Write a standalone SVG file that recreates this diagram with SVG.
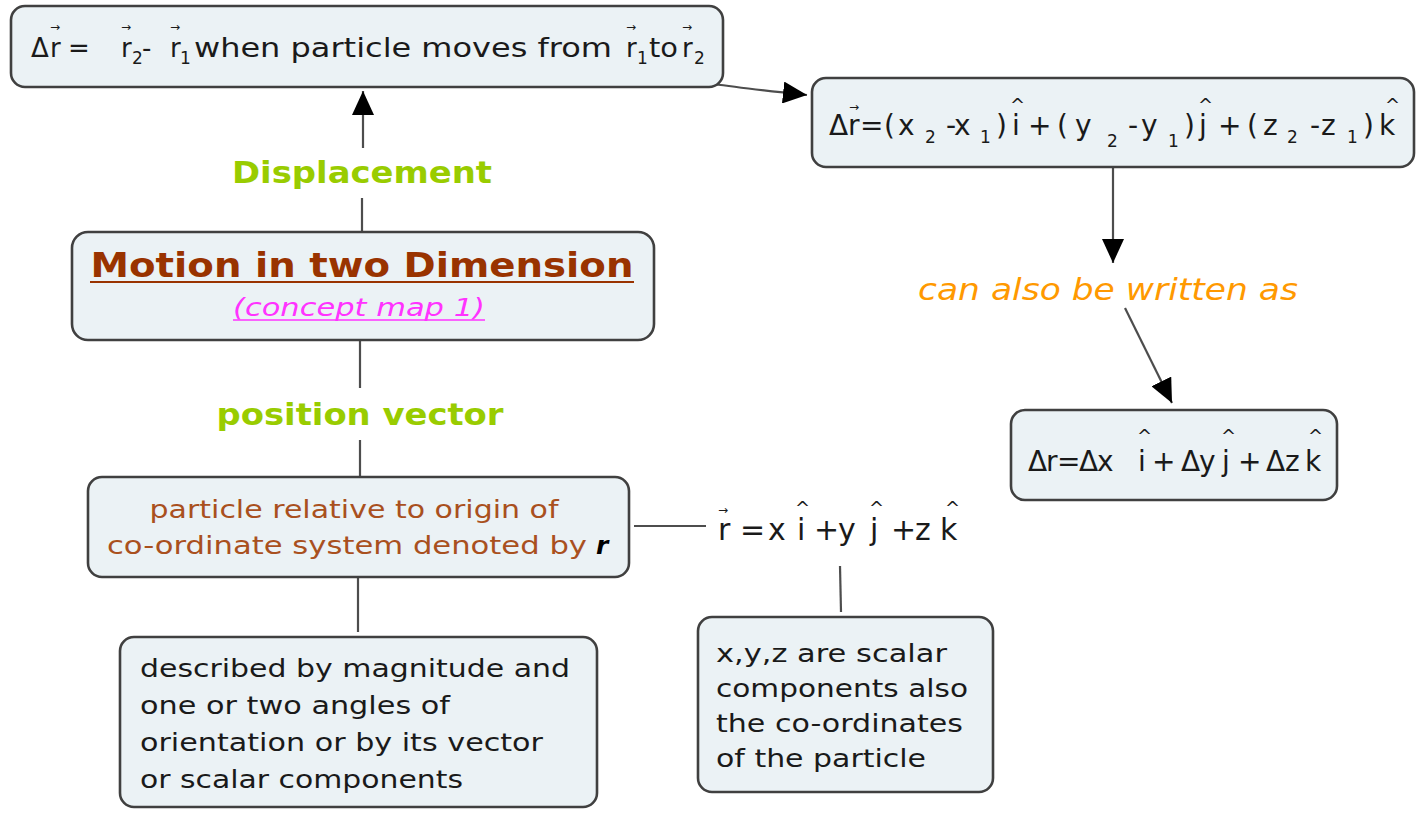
<svg xmlns="http://www.w3.org/2000/svg" width="1419" height="817" viewBox="0 0 1419 817">
<defs>
<marker id="ah" viewBox="0 0 24 22" refX="24" refY="11" markerWidth="24" markerHeight="22" markerUnits="userSpaceOnUse" orient="auto">
<path d="M0,0 L24,11 L0,22 z" fill="#000"/>
</marker>
<style>
.box{fill:#ebf2f5;stroke:#404040;stroke-width:2.6}
.t{font-family:"DejaVu Sans",Verdana,sans-serif;fill:#1a1a1a}
.m{font-family:"DejaVu Sans",Verdana,sans-serif;fill:#1a1a1a}
.hat{font-size:18px}
.vec{font-size:12px}
.lbl{font-family:"DejaVu Sans",Verdana,sans-serif;font-weight:bold;font-size:30px;fill:#99cc00;text-anchor:middle}
.conn{stroke:#4d4d4d;stroke-width:2.2;fill:none}
</style>
</defs>

<g id="connectors">
<line class="conn" x1="362" y1="232" x2="362" y2="198"/>
<line class="conn" x1="363" y1="148" x2="363" y2="91" marker-end="url(#ah)"/>
<path class="conn" d="M714,84 Q740,88 807,95" marker-end="url(#ah)"/>
<line class="conn" x1="1113" y1="167" x2="1113" y2="263" marker-end="url(#ah)"/>
<line class="conn" x1="1125" y1="308" x2="1172" y2="403" marker-end="url(#ah)"/>
<line class="conn" x1="360" y1="340" x2="360" y2="388"/>
<line class="conn" x1="360" y1="440" x2="360" y2="477"/>
<line class="conn" x1="634" y1="526" x2="706" y2="526"/>
<line class="conn" x1="840" y1="566" x2="841" y2="612"/>
<line class="conn" x1="358" y1="577" x2="358" y2="632"/>
</g>

<g id="labels">
<text class="lbl" x="362" y="183" textLength="260" lengthAdjust="spacingAndGlyphs">Displacement</text>
<text class="lbl" x="360" y="425" textLength="287" lengthAdjust="spacingAndGlyphs">position vector</text>
<text x="1108" y="300" font-family="DejaVu Sans,Verdana,sans-serif" font-style="italic" font-size="30" fill="#ff9900" text-anchor="middle" textLength="380" lengthAdjust="spacingAndGlyphs">can also be written as</text>
</g>

<g id="node-displacement-def">
<rect class="box" x="11" y="6" width="712" height="81" rx="14"/>
<text class="m" font-size="26"><tspan x="31 50 68" y="57">Δr=</tspan><tspan x="121" y="57">r</tspan><tspan x="132" y="64" font-size="17">2</tspan><tspan x="142" y="57">-</tspan><tspan x="170" y="57">r</tspan><tspan x="180" y="64" font-size="17">1</tspan><tspan x="194" y="57" textLength="418" lengthAdjust="spacingAndGlyphs">when particle moves from</tspan><tspan x="626" y="57">r</tspan><tspan x="637" y="64" font-size="17">1</tspan><tspan x="649" y="57" textLength="29" lengthAdjust="spacingAndGlyphs">to</tspan><tspan x="682" y="57">r</tspan><tspan x="694" y="64" font-size="17">2</tspan><tspan class="vec" x="50 121 170 626 682" y="31">→→→→→</tspan></text>
</g>

<g id="node-displacement-components">
<rect class="box" x="812" y="78" width="602" height="89" rx="14"/>
<text class="m" font-size="28"><tspan y="135" x="829 848 860 884 898">Δr=(x</tspan><tspan y="143" x="925" font-size="17">2</tspan><tspan y="135" x="946 954">-x</tspan><tspan y="143" x="980" font-size="17">1</tspan><tspan y="135" x="996 1012 1028 1057 1075">)i+(y</tspan><tspan y="147" x="1107" font-size="17">2</tspan><tspan y="135" x="1128 1141">-y</tspan><tspan y="147" x="1168" font-size="17">1</tspan><tspan y="135" x="1184 1199 1218 1247 1263">)j+(z</tspan><tspan y="143" x="1287" font-size="17">2</tspan><tspan y="135" x="1310 1321">-z</tspan><tspan y="143" x="1347" font-size="17">1</tspan><tspan y="135" x="1363 1379">)k</tspan><tspan class="vec" y="111" x="849">→</tspan><tspan class="hat" y="111" x="1010 1198 1385">^^^</tspan></text>
</g>

<g id="node-delta-r">
<rect class="box" x="1011" y="410" width="326" height="90" rx="14"/>
<text class="m" font-size="28"><tspan y="471" x="1028 1046 1057 1079 1097">Δr=Δx</tspan><tspan y="471" x="1138 1152 1181 1199 1222 1238 1266 1285 1305">i+Δyj+Δzk</tspan><tspan class="hat" y="442" x="1137 1221 1308">^^^</tspan></text>
</g>

<g id="node-main">
<rect class="box" x="72" y="232" width="582" height="108" rx="16"/>
<text x="362" y="277" font-family="DejaVu Sans,Verdana,sans-serif" font-weight="bold" font-size="34" fill="#993300" text-anchor="middle" textLength="543" lengthAdjust="spacingAndGlyphs">Motion in two Dimension</text>
<line x1="90" y1="282" x2="634" y2="282" stroke="#993300" stroke-width="2"/>
<text x="359" y="316" font-family="DejaVu Sans,Verdana,sans-serif" font-style="italic" font-size="24" fill="#ff33ff" text-anchor="middle" textLength="252" lengthAdjust="spacingAndGlyphs">(concept map 1)</text>
<line x1="233" y1="320" x2="485" y2="320" stroke="#ff33ff" stroke-width="1.5"/>
</g>

<g id="node-position">
<rect class="box" x="88" y="477" width="541" height="100" rx="14"/>
<text x="354" y="518" font-family="DejaVu Sans,Verdana,sans-serif" font-size="25" fill="#a9501e" text-anchor="middle" textLength="409" lengthAdjust="spacingAndGlyphs">particle relative to origin of</text>
<text font-family="DejaVu Sans,Verdana,sans-serif" font-size="25" fill="#a9501e"><tspan x="107" y="554" textLength="480" lengthAdjust="spacingAndGlyphs">co-ordinate system denoted by</tspan><tspan x="596" y="554" font-weight="bold" font-style="italic" fill="#000">r</tspan></text>
</g>

<g id="node-formula">
<text class="m" font-size="30"><tspan y="540" x="718 740 768 797 814 838 870 891 915 940">r=xi+yj+zk</tspan><tspan class="vec" y="514" x="718">→</tspan><tspan class="hat" y="514" x="795 869 945">^^^</tspan></text>
</g>

<g id="node-described">
<rect class="box" x="120" y="637" width="477" height="170" rx="14"/>
<text class="t" font-size="25" x="140" y="677" textLength="430" lengthAdjust="spacingAndGlyphs">described by magnitude and</text>
<text class="t" font-size="25" x="140" y="714" textLength="310" lengthAdjust="spacingAndGlyphs">one or two angles of</text>
<text class="t" font-size="25" x="140" y="751" textLength="403" lengthAdjust="spacingAndGlyphs">orientation or by its vector</text>
<text class="t" font-size="25" x="140" y="788" textLength="323" lengthAdjust="spacingAndGlyphs">or scalar components</text>
</g>

<g id="node-scalar">
<rect class="box" x="698" y="617" width="295" height="175" rx="14"/>
<text class="t" font-size="25" x="716" y="662" textLength="231" lengthAdjust="spacingAndGlyphs">x,y,z are scalar</text>
<text class="t" font-size="25" x="716" y="697" textLength="252" lengthAdjust="spacingAndGlyphs">components also</text>
<text class="t" font-size="25" x="716" y="732" textLength="247" lengthAdjust="spacingAndGlyphs">the co-ordinates</text>
<text class="t" font-size="25" x="716" y="767" textLength="210" lengthAdjust="spacingAndGlyphs">of the particle</text>
</g>
</svg>
